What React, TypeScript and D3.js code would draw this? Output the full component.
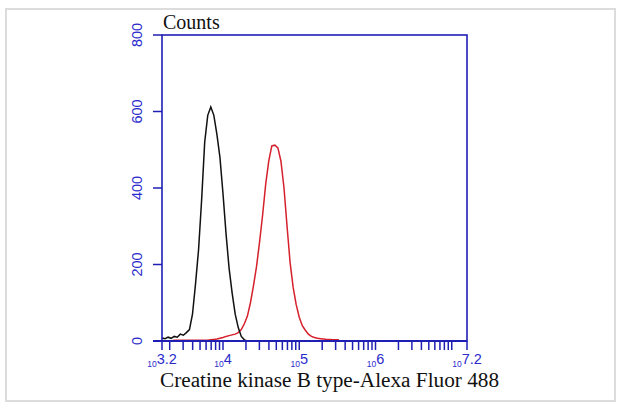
import React from 'react';
import * as d3 from 'd3';

// Histogram bins: centres at log10 = 3.2, 3.24, ... (0.04 decades apart).
const binStart = 3.2;
const binWidth = 0.04;

// Isotype control (black) counts per bin.
const controlCounts = [
  8, 6, 10, 7, 12, 10, 18, 15, 22, 30,
  70, 150, 240, 370, 520, 590, 612, 590, 540, 480,
  385, 280, 190, 125, 70, 35, 12, 3, 0,
];

// Creatine kinase B stained sample (red) counts per bin.
const sampleCounts = [
  0, 0, 0, 0, 2, 2, 2, 2, 2, 2,
  2, 2, 2, 2, 2, 2, 3, 4, 5, 7,
  9, 12, 14, 16, 18, 22, 30, 45, 65, 100,
  145, 195, 260, 330, 410, 470, 510, 512, 505, 470,
  400, 300, 205, 140, 95, 62, 40, 28, 18, 12,
  9, 7, 6, 5, 4, 4, 3, 3, 3,
];

const yTicks = [0, 200, 400, 600, 800];
const xMajorExps = ['3.2', '4', '5', '6', '7.2'];

const W = 620;
const H = 403;
const margin = { left: 162, right: 153, top: 35, bottom: 62 };
const blue = '#1f1fb4';
const blueText = '#2b2bcc';

export default function App() {
  const x = d3.scaleLog()
    .domain([Math.pow(10, 3.2), Math.pow(10, 7.2)])
    .range([margin.left, W - margin.right]);
  const y = d3.scaleLinear()
    .domain([0, 800])
    .range([H - margin.bottom, margin.top]);

  const x0 = margin.left;
  const x1 = W - margin.right;
  const y0 = H - margin.bottom;
  const y1 = margin.top;

  // bin centres -> points
  const toPoints = (counts: number[]) =>
    counts.map((c, i) => [
      x(Math.pow(10, binStart + i * binWidth)),
      y(c),
    ] as [number, number]);
  const line = d3.line();

  // minor + major ticks: 1..9 x 10^k inside the domain, plus the two ends
  const ticks: number[] = [];
  for (let k = 3; k <= 7; k++) {
    for (let m = 1; m <= 9; m++) {
      const v = m * Math.pow(10, k);
      if (v >= Math.pow(10, 3.2) && v <= Math.pow(10, 7.2)) ticks.push(v);
    }
  }
  ticks.push(Math.pow(10, 3.2), Math.pow(10, 7.2));

  return (
    <svg width={W} height={H} style={{ position: 'absolute', left: 0, top: 0, background: '#fff' }}>
      <rect x={6} y={9} width={609} height={392} fill="none" stroke="#dcdcdc" strokeWidth={2} />

      {/* histograms */}
      <path d={line(toPoints(sampleCounts)) || ''} fill="none" stroke="#d6202c" strokeWidth={1.5} />
      <path d={line(toPoints(controlCounts)) || ''} fill="none" stroke="#111" strokeWidth={1.5} />

      {/* frame */}
      <rect x={x0} y={y1} width={x1 - x0} height={y0 - y1} fill="none" stroke={blue} strokeWidth={1.6} />
      <line x1={x0 - 9} x2={x1} y1={y0} y2={y0} stroke={blue} strokeWidth={2} />

      {/* y ticks */}
      {yTicks.map((t) => (
        <g key={t}>
          <line x1={x0 - 9} x2={x0} y1={y(t)} y2={y(t)} stroke={blue} strokeWidth={1.5} />
          <text
            transform={`translate(${x0 - 20},${y(t)}) rotate(-90)`}
            textAnchor="middle"
            fontFamily="Liberation Sans, Arial, sans-serif"
            fontSize={14.5}
            fill={blueText}
          >
            {t}
          </text>
        </g>
      ))}

      {/* x ticks */}
      {ticks.map((v, i) => (
        <line key={i} x1={x(v)} x2={x(v)} y1={y0} y2={y0 + 9} stroke={blue} strokeWidth={1.5} />
      ))}
      {xMajorExps.map((e) => (
        <text
          key={e}
          x={x(Math.pow(10, +e))}
          y={y0 + 24}
          textAnchor="middle"
          fontFamily="Liberation Sans, Arial, sans-serif"
          fill={blueText}
        >
          <tspan fontSize={8.5} dy={2}>10</tspan>
          <tspan fontSize={14.5} dy={-3}>{e}</tspan>
        </text>
      ))}

      <text x={x0 + 1} y={y1 - 6} fontFamily="Liberation Serif, Times New Roman, serif" fontSize={20} fill="#111">
        Counts
      </text>
      <text
        x={160}
        y={H - 16}
        textLength={339}
        lengthAdjust="spacingAndGlyphs"
        fontFamily="Liberation Serif, Times New Roman, serif"
        fontSize={20}
        fill="#111"
      >
        Creatine kinase B type-Alexa Fluor 488
      </text>
    </svg>
  );
}
